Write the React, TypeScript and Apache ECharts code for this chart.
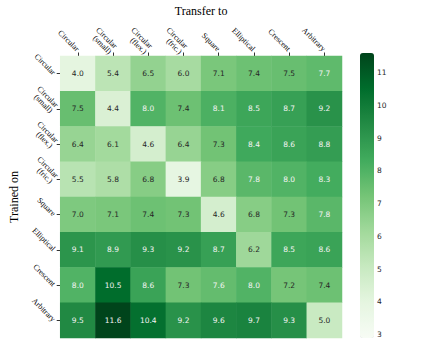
import React, { useEffect, useRef } from "react";
import * as echarts from "echarts";

const transferTo = ["Circular", "Circular\n(small)", "Circular\n(flex.)", "Circular\n(fric.)", "Square", "Elliptical", "Crescent", "Arbitrary"];
const trainedOn = ["Circular", "Circular\n(small)", "Circular\n(flex.)", "Circular\n(fric.)", "Square", "Elliptical", "Crescent", "Arbitrary"];
const values: number[][] = [
  [4.0, 5.4, 6.5, 6.0, 7.1, 7.4, 7.5, 7.7],
  [7.5, 4.4, 8.0, 7.4, 8.1, 8.5, 8.7, 9.2],
  [6.4, 6.1, 4.6, 6.4, 7.3, 8.4, 8.6, 8.8],
  [5.5, 5.8, 6.8, 3.9, 6.8, 7.8, 8.0, 8.3],
  [7.0, 7.1, 7.4, 7.3, 4.6, 6.8, 7.3, 7.8],
  [9.1, 8.9, 9.3, 9.2, 8.7, 6.2, 8.5, 8.6],
  [8.0, 10.5, 8.6, 7.3, 7.6, 8.0, 7.2, 7.4],
  [9.5, 11.6, 10.4, 9.2, 9.6, 9.7, 9.3, 5.0],
];
const colorbarTicks = [3, 4, 5, 6, 7, 8, 9, 10, 11];
const vMin = 2.9;
const vMax = 11.6;

const greens = ["#f7fcf5", "#e5f5e0", "#c7e9c0", "#a1d99b", "#74c476", "#41ab5d", "#238b45", "#006d2c", "#00441b"];

export default function App() {
  const ref = useRef<HTMLDivElement>(null);
  useEffect(() => {
    const chart = echarts.init(ref.current!, null, { renderer: "svg" });
    const data: any[] = [];
    values.forEach((row, r) =>
      row.forEach((v, c) => {
        data.push({
          value: [c, r, v],
          label: { color: v > 7.55 ? "#f4f4f4" : "#262626" },
        });
      })
    );
    const serif = "Liberation Serif";
    chart.setOption({
      animation: false,
      grid: [
        { left: 55, top: 53, width: 287, height: 285 },
        { left: 360, top: 53, width: 14, height: 285 },
      ],
      xAxis: [
        {
          type: "category",
          data: transferTo,
          position: "top",
          gridIndex: 0,
          name: "Transfer to",
          nameLocation: "middle",
          nameGap: 39,
          nameTextStyle: { fontFamily: serif, fontSize: 12, color: "#000" },
          axisLine: { show: false },
          axisTick: { show: true, alignWithLabel: true, length: 3.5, lineStyle: { color: "#333" } },
          axisLabel: { rotate: 45, fontFamily: serif, fontSize: 8, color: "#000", lineHeight: 8, margin: 6 },
          splitLine: { show: false },
        },
        { type: "value", gridIndex: 1, show: false, min: 0, max: 1 },
      ],
      yAxis: [
        {
          type: "category",
          data: trainedOn,
          inverse: true,
          gridIndex: 0,
          name: "Trained on",
          nameLocation: "middle",
          nameGap: 40,
          nameRotate: 90,
          nameTextStyle: { fontFamily: serif, fontSize: 12, color: "#000" },
          axisLine: { show: false },
          axisTick: { show: true, alignWithLabel: true, length: 3.5, lineStyle: { color: "#333" } },
          axisLabel: { rotate: -45, fontFamily: serif, fontSize: 8, color: "#000", lineHeight: 8, margin: 6 },
          splitLine: { show: false },
        },
        {
          type: "value",
          gridIndex: 1,
          position: "right",
          min: vMin,
          max: vMax,
          axisLine: { show: false },
          splitLine: { show: false },
          axisTick: { show: true, length: 3, lineStyle: { color: "#333" }, customValues: colorbarTicks },
          axisLabel: { fontFamily: "DejaVu Sans", fontSize: 7.5, color: "#262626", margin: 3, customValues: colorbarTicks },
        },
      ],
      visualMap: {
        type: "continuous",
        min: vMin,
        max: vMax,
        dimension: 2,
        seriesIndex: 0,
        inRange: { color: greens },
        orient: "vertical",
        left: 360,
        top: 53,
        itemWidth: 14,
        itemHeight: 285,
        padding: 0,
        calculable: false,
        realtime: false,
        text: null,
        showLabel: false,
      },
      series: [
        {
          type: "heatmap",
          xAxisIndex: 0,
          yAxisIndex: 0,
          data,
          label: { show: true, fontFamily: "DejaVu Sans", fontSize: 7.5, formatter: (p: any) => p.value[2].toFixed(1) },
          emphasis: { disabled: true },
          itemStyle: { borderWidth: 0 },
        },
      ],
    });
    return () => chart.dispose();
  }, []);
  return <div ref={ref} style={{ width: 423, height: 348, position: "absolute", left: 0, top: 0 }} />;
}
